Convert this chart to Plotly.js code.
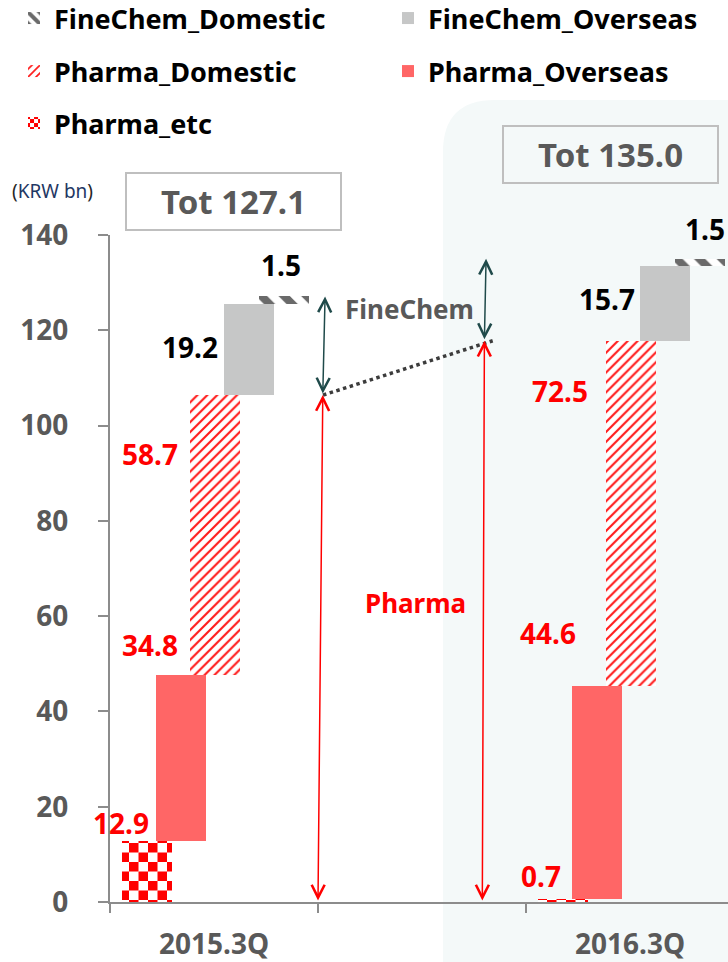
<!DOCTYPE html>
<html><head><meta charset="utf-8">
<script src="https://cdn.plot.ly/plotly-3.0.1.min.js"></script>
<style>html,body{margin:0;padding:0;background:#fff;}</style>
</head><body><div id="chart" style="width:728px;height:962px;"></div>
<script>
// ---------------- DATA ----------------
const periods = ['2015.3Q', '2016.3Q'];
const periodX = [0, 2];
const pharmaEtc = [12.9, 0.7];
const pharmaOverseas = [34.8, 44.6];
const pharmaDomestic = [58.7, 72.5];
const fineChemOverseas = [19.2, 15.7];
const fineChemDomestic = [1.5, 1.5];
const yTicks = [0, 20, 40, 60, 80, 100, 120, 140];
const seriesNames = ['Pharma_etc', 'Pharma_Overseas', 'Pharma_Domestic', 'FineChem_Overseas', 'FineChem_Domestic'];
const seriesValues = [pharmaEtc, pharmaOverseas, pharmaDomestic, fineChemOverseas, fineChemDomestic];

// ---------------- DERIVED (stack bases / totals) ----------------
const bases = [];
let running = periods.map(() => 0);
seriesValues.forEach(vals => {
  bases.push(running.slice());
  running = running.map((r, i) => +(r + vals[i]).toFixed(1));
});
const totals = running;
const pharmaTotals = periods.map((_, i) => +(pharmaEtc[i] + pharmaOverseas[i] + pharmaDomestic[i]).toFixed(1));

// ---------------- STYLE ----------------
const FONT = 'Noto Sans';
const Y_MAX = 140;
const CHECKER = 'rgb(255, 0, 1)';
const CHECK_SIZE = 19;
const styles = {
  Pharma_etc:        {offset: -0.44,  legend: 'legend5', color: '#ffffff', pattern: {shape: '+', fgcolor: CHECKER, bgcolor: '#ffffff', size: CHECK_SIZE, solidity: 0.5}, label: '#ff0000'},
  Pharma_Overseas:   {offset: -0.28,  legend: 'legend4', color: '#ff6666', pattern: null, label: '#ff0000'},
  Pharma_Domestic:   {offset: -0.115, legend: 'legend3', color: '#ffffff', pattern: {shape: '/', fgcolor: '#ff1a1a', bgcolor: '#ffffff', size: 7, solidity: 0.3}, label: '#ff0000'},
  FineChem_Overseas: {offset: 0.05,   legend: 'legend2', color: '#c6c7c7', pattern: null, label: '#000000'},
  FineChem_Domestic: {offset: 0.215,  legend: 'legend',  color: '#ffffff', pattern: {shape: '\\', fgcolor: '#6a6a6a', bgcolor: '#ffffff', size: 16, solidity: 0.5}, label: '#000000'}
};
const BAR_W = 0.24;
// label placement per series: [[x, y(value units), xanchor] for each period]
const labelPos = {
  Pharma_etc:        [[-0.303, 16.6, 'right'], [1.678, 5.4, 'right']],
  Pharma_Overseas:   [[-0.163, 54.0, 'right'], [1.75, 56.5, 'right']],
  Pharma_Domestic:   [[-0.163, 94.0, 'right'], [1.808, 107.3, 'right']],
  FineChem_Overseas: [[0.029, 116.5, 'right'], [2.034, 126.6, 'right']],
  FineChem_Domestic: [[0.32, 133.6, 'center'], [2.36, 141.3, 'center']]
};
const arrowPos = { // [bottomX, topX] per period for pharma (red) and finechem (teal)
  pharma: [[0.5, 0.523], [1.29, 1.30]],
  fine:   [[0.523, 0.534], [1.30, 1.308]]
};
const connectorX = [0.524, 1.34];
const py = v => v / Y_MAX; // value -> paper y (axis range starts at 0)

// ---------------- TRACES ----------------
const data = seriesNames.map((name, k) => {
  const s = styles[name];
  const marker = {color: s.color, line: {width: 0}};
  if (s.pattern) marker.pattern = Object.assign({fillmode: 'replace'}, s.pattern);
  return {
    type: 'bar', name: name, x: periodX, y: seriesValues[k], base: bases[k],
    width: BAR_W, offset: s.offset, marker: marker, legend: s.legend,
    hoverinfo: 'skip', cliponaxis: false
  };
});
data.push({
  type: 'scatter', mode: 'lines', x: connectorX, y: pharmaTotals, showlegend: false,
  line: {color: '#3c3c3c', width: 3.5, dash: 'dot'}, hoverinfo: 'skip'
});

// ---------------- ANNOTATIONS ----------------
const ann = [];
seriesNames.forEach((name, k) => {
  seriesValues[k].forEach((v, i) => {
    const p = labelPos[name][i];
    ann.push({x: p[0], y: py(p[1]), xref: 'x', yref: 'paper', xanchor: p[2], yanchor: 'middle',
      text: v.toFixed(1), showarrow: false,
      font: {family: FONT, size: 28, color: styles[name].label, weight: 700}});
  });
});
function arrow(x0, y0, x1, y1, color) {
  return {x: x1, y: y1, ax: x0, ay: y0, xref: 'x', yref: 'y', axref: 'x', ayref: 'y',
    text: '', showarrow: true, arrowhead: 5, startarrowhead: 5, arrowside: 'end+start',
    arrowsize: 1.7, startarrowsize: 1.7, arrowwidth: 1.5, arrowcolor: color,
    standoff: 0, startstandoff: 0};
}
periods.forEach((_, i) => {
  ann.push(arrow(arrowPos.pharma[i][0], 0, arrowPos.pharma[i][1], pharmaTotals[i], '#ff0000'));
  ann.push(arrow(arrowPos.fine[i][0], pharmaTotals[i], arrowPos.fine[i][1], totals[i], '#1f4a4a'));
});
ann.push({x: 0.942, y: py(124.5), xref: 'x', yref: 'paper', xanchor: 'center', yanchor: 'middle',
  text: 'FineChem', showarrow: false,
  font: {family: FONT, size: 26, color: '#595959', weight: 700}});
ann.push({x: 0.971, y: py(62.8), xref: 'x', yref: 'paper', xanchor: 'center', yanchor: 'middle',
  text: 'Pharma', showarrow: false,
  font: {family: FONT, size: 26, color: '#ff0000', weight: 700}});
const totPos = [[0.094, 147.0], [1.904, 156.9]];
periods.forEach((_, i) => {
  ann.push({x: totPos[i][0], y: py(totPos[i][1]), xref: 'x', yref: 'paper', xanchor: 'center', yanchor: 'middle',
    text: 'Tot ' + totals[i].toFixed(1),
    showarrow: false, width: 213, height: 55, borderpad: 0, bordercolor: '#bfbfbf', borderwidth: 2,
    bgcolor: 'rgba(0,0,0,0)', font: {family: FONT, size: 33, color: '#595959', weight: 700}});
});
ann.push({x: -0.1618, y: 1.066, xref: 'paper', yref: 'paper', xanchor: 'left', yanchor: 'middle',
  text: '(<span style="color:#1f3864">KRW bn</span>)', showarrow: false,
  font: {family: FONT, size: 19, color: '#262626'}});

// ---------------- LAYOUT ----------------
function leg(x, y) {
  return {x: x, y: y, xanchor: 'left', yanchor: 'middle',
    bgcolor: 'rgba(0,0,0,0)', borderwidth: 0,
    font: {family: FONT, size: 27, color: '#000000', weight: 700}};
}
const layout = {
  width: 728, height: 962,
  margin: {l: 110, r: 0, t: 235, b: 60, autoexpand: false},
  paper_bgcolor: '#ffffff', plot_bgcolor: 'rgba(0,0,0,0)',
  barmode: 'overlay', bargap: 0,
  showlegend: true,
  legend:  leg(-0.1553, 1.3246),
  legend2: leg(0.4498, 1.3246),
  legend3: leg(-0.1553, 1.2451),
  legend4: leg(0.4498, 1.2451),
  legend5: leg(-0.1553, 1.1672),
  xaxis: {
    range: [-0.5, 2.4712], tickmode: 'array', tickvals: periodX, ticktext: periods, ticks: '',
    showline: true, linecolor: '#8c8c8c', linewidth: 2, showgrid: false, zeroline: false,
    tickfont: {family: FONT, size: 28, color: '#595959', weight: 700}, ticklabelstandoff: 16,
    minor: {tickmode: 'array', tickvals: [-0.5, 0.5, 1.5, 2.5], ticks: 'outside', ticklen: 9, tickwidth: 2, tickcolor: '#8c8c8c', showgrid: false}
  },
  yaxis: {
    range: [0, Y_MAX], tickmode: 'array', tickvals: yTicks, ticks: 'outside', ticklen: 10, tickwidth: 2,
    tickcolor: '#8c8c8c', showline: true, linecolor: '#8c8c8c', linewidth: 2, showgrid: false, zeroline: false,
    tickfont: {family: FONT, size: 28, color: '#595959', weight: 700}, ticklabelstandoff: 24
  },
  shapes: [{
    type: 'path', xref: 'paper', yref: 'paper', layer: 'below',
    path: 'M 0.5388,-0.12 L 0.5388,1.1244 Q 0.5388,1.2024 0.6229,1.2024 L 1.1,1.2024 L 1.1,-0.12 Z',
    fillcolor: '#f4f9f9', line: {width: 0}
  }],
  annotations: ann
};

const gd = document.getElementById('chart');
Plotly.newPlot(gd, data, layout, {staticPlot: true, displayModeBar: false}).then(() => {
  // turn the Pharma_etc pattern tile into a checkerboard
  const ns = 'http://www.w3.org/2000/svg';
  gd.querySelectorAll('pattern').forEach(p => {
    const h = p.outerHTML.replace(/\s/g, '');
    if (h.indexOf('rgb(255,0,1)') < 0) return;
    const w = parseFloat(p.getAttribute('width')) || CHECK_SIZE;
    const hh = parseFloat(p.getAttribute('height')) || CHECK_SIZE;
    while (p.firstChild) p.removeChild(p.firstChild);
    [[0, 0, w, hh, '#ffffff'], [0, 0, w / 2, hh / 2, '#ff0000'], [w / 2, hh / 2, w / 2, hh / 2, '#ff0000']].forEach(r => {
      const e = document.createElementNS(ns, 'rect');
      e.setAttribute('x', r[0]); e.setAttribute('y', r[1]);
      e.setAttribute('width', r[2]); e.setAttribute('height', r[3]);
      e.setAttribute('fill', r[4]);
      p.appendChild(e);
    });
  });
});
</script>
</body></html>
